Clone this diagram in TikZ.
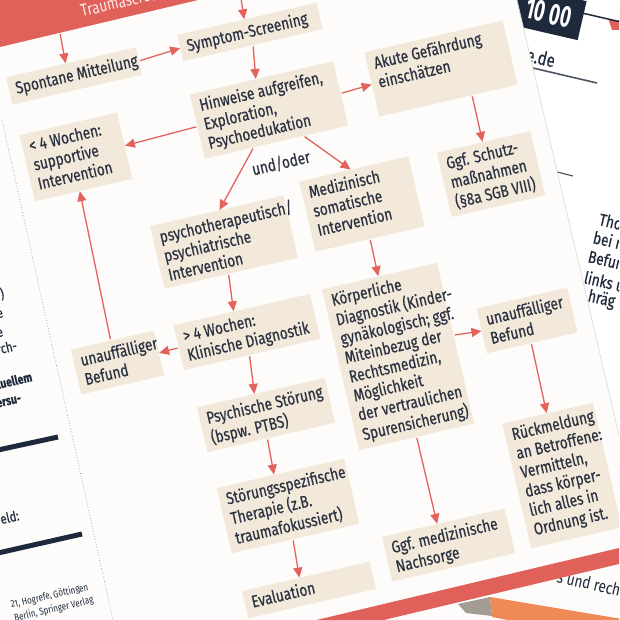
\documentclass[tikz,border=0pt]{standalone}
\usepackage{fontspec}
\setmainfont{Fira Sans}[FakeStretch=0.80,FakeBold=0.5]
\newfontfamily\narrowdigits{Fira Sans}[FakeStretch=0.62]
\newfontfamily\plainsans{Fira Sans}[FakeStretch=0.80]
\usetikzlibrary{arrows.meta,calc}
\definecolor{boxc}{HTML}{F3E9DB}
\definecolor{arrc}{HTML}{E3625B}
\definecolor{txt}{HTML}{2B3242}
\definecolor{band}{HTML}{E0605A}
\definecolor{navy}{HTML}{1E2A3C}
\definecolor{pagec}{HTML}{FDFCFA}
\definecolor{pencilo}{HTML}{EE8A55}
\definecolor{pencilg}{HTML}{A39C94}
\newcommand\bt[3]{\parbox[c][#2pt][t]{#1pt}{\vspace*{5pt}\hspace*{7pt}\begin{tabular}[t]{@{}l@{}}#3\end{tabular}}}
\begin{document}
\begin{tikzpicture}[x=1pt,y=1pt,
  box/.style={fill=boxc,inner sep=0pt,rotate=13,text=txt,font=\fontsize{17}{19.5}\selectfont},
  arr/.style={draw=arrc,line width=1.3pt,-{Triangle[length=10pt,width=9pt]},shorten <=1pt},
  frag/.style={text=navy,inner sep=0pt,rotate=13,font=\fontsize{14}{17}\selectfont},
  rfrag/.style={text=navy,inner sep=0pt,rotate=-13,font=\fontsize{17}{19}\selectfont}]
\useasboundingbox (0,0) rectangle (619,-620);
\clip (0,0) rectangle (619,-620);
\fill[pagec] (0,0) rectangle (619,-620);

% right page (underneath)
\begin{scope}
  \clip (517,0) -- (640,0) -- (640,-525) -- cycle;
  \fill[white] (517,0) -- (640,0) -- (640,-525) -- cycle;
  \fill[band] (606,-12) -- (625,-8) -- (625,-30) -- (612,-30) -- cycle;
  \node[draw=navy,line width=1.5pt,rounded corners=6pt,fill=white,minimum width=52pt,minimum height=30pt,rotate=-13] (wbox) at (601,-2) {};
  \node[fill=navy,text=white,rotate=-13,minimum width=68pt,minimum height=40pt,inner sep=0pt,font=\narrowdigits\bfseries\fontsize{30}{30}\selectfont] (clock) at (549,-13) {10 00};
  \node[rfrag,anchor=base west,font=\fontsize{19}{20}\selectfont] (url) at (525,-61) {e.de};
  \draw[navy!80,line width=1.6pt] (520,-65) -- (597,-83);
  \draw[navy!80,line width=1.2pt] (557,-172) -- (573,-176);
  \node[rfrag,anchor=base west] (r1) at (598,-225) {Tho};
  \node[rfrag,anchor=base west] (r2) at (592,-243) {bei n};
  \node[rfrag,anchor=base west] (r3) at (587,-262) {Befun};
  \node[rfrag,anchor=base west] (r4) at (583,-283) {links u};
  \node[rfrag,anchor=base west] (r5) at (587,-301) {hräg};
\end{scope}
\draw[black!15,line width=0.6pt] (517,0) -- (640,-525);

% area below the bottom band
\node[rfrag,anchor=base west,font=\plainsans\fontsize{17}{19}\selectfont] (r6) at (556,-582) {s und rech};
\fill[pencilg] (458,-604) -- (490,-597) -- (492,-616) -- (466,-613) -- cycle;
\fill[pencilo] (490,-597) -- (640,-622) -- (640,-645) -- (492,-617) -- cycle;
\fill[band] (290,-626.3) -- (619,-548) -- (619,-564) -- (290,-642.3) -- cycle;

% header band
\begin{scope}
  \clip (0,0) -- (0,-47) -- (198,0) -- cycle;
  \fill[band] (0,0) -- (0,-47) -- (198,0) -- cycle;
  \node[rotate=13,anchor=base west,inner sep=0pt,text=white!88!band,font=\plainsans\fontsize{17}{19}\selectfont] (head) at (82,-17) {Traumascreening};
\end{scope}

% left page
\draw[black!40,dotted,line width=0.7pt] (2,-120) -- (113,-620);
\node[frag,anchor=base east] (l1) at (5,-298) {)};
\node[frag,anchor=base east] (l2) at (4,-317) {e};
\node[frag,anchor=base east] (l3) at (4,-336) {e};
\node[frag,anchor=base east] (l4) at (18,-350) {rch-};
\node[frag,anchor=base east,font=\bfseries\fontsize{13}{16}\selectfont] (l5) at (33,-381) {xuellem};
\node[frag,anchor=base east,font=\bfseries\fontsize{13}{16}\selectfont] (l6) at (22,-402) {tersu-};
\draw[navy,line width=5pt] (-2,-450) -- (58,-437);
\node[frag,anchor=base east] (l7) at (20,-520) {eld:};
\draw[navy,line width=5pt] (-2,-553) -- (82,-534);
\node[frag,anchor=base east,font=\plainsans\fontsize{10}{12}\selectfont] (l8) at (89,-590) {21, Hogrefe, Göttingen};
\node[frag,anchor=base east,font=\plainsans\fontsize{10}{12}\selectfont] (l9) at (94,-603) {Berlin, Springer Verlag};

% flowchart boxes
\node[box] (sp) at (74,-76) {\bt{133}{28}{Spontane Mitteilung}};
\node[box] (sy) at (250,-32) {\bt{143}{27}{Symptom-Screening}};
\node[box] (hi) at (269,-110) {\bt{147}{66}{Hinweise aufgreifen,\\Exploration,\\Psychoedukation}};
\node[box] (ak) at (441,-68.5) {\bt{142}{66}{Akute Gefährdung\\einschätzen}};
\node[box] (lw) at (76,-157) {\bt{100}{68}{< 4 Wochen:\\supportive\\Intervention}};
\node[box] (me) at (362,-204) {\bt{112}{72}{Medizinisch\\somatische\\Intervention}};
\node[box] (ps) at (224,-242) {\bt{137}{64}{psychotherapeutisch/\\psychiatrische\\Intervention}};
\node[box] (sc) at (491,-174) {\bt{96}{66}{Ggf. Schutz-\\maßnahmen\\(§8a SGB VIII)}};
\node[box] (gw) at (247,-332) {\bt{140}{46}{> 4 Wochen:\\Klinische Diagnostik}};
\node[box] (ul) at (117.5,-362.5) {\bt{85}{46}{unauffälliger\\Befund}};
\node[box] (pt) at (266,-415) {\bt{131}{46}{Psychische Störung\\(bspw. PTBS)}};
\node[box] (kd) at (398,-356.5) {\bt{118}{165}{Körperliche\\Diagnostik (Kinder-\\gynäkologisch; ggf.\\Miteinbezug der\\Rechtsmedizin,\\Möglichkeit\\der vertraulichen\\Spurensicherung)}};
\node[box] (ur) at (527,-320.5) {\bt{93}{46}{unauffälliger\\Befund}};
\node[box] (rm) at (562,-475.5) {\bt{93}{128}{Rückmeldung\\an Betroffene:\\Vermitteln,\\dass körper-\\lich alles in\\Ordnung ist.}};
\node[box] (st) at (288,-506) {\bt{131}{67}{Störungsspezifische\\Therapie (z.B.\\traumafokussiert)}};
\node[box] (ev) at (309,-590) {\bt{131}{28}{Evaluation}};
\node[box] (na) at (448.5,-545) {\bt{126}{46}{Ggf. medizinische\\Nachsorge}};
\node[rotate=13,text=txt,inner sep=0pt,font=\fontsize{17}{19.5}\selectfont] (uo) at (281,-163) {und/oder};

% connectors
\coordinate (hA) at (60,-33);
\coordinate (hB) at (241,2);
\draw[arr] (hA) -- ($(sp.north west)!.46!(sp.north east)$);
\draw[arr] (hB) -- ($(sy.north west)!.48!(sy.north east)$);
\draw[arr] (sp.east) -- (sy.west);
\draw[arr] ($(sy.south west)!.5!(sy.south east)$) -- ($(hi.north west)!.46!(hi.north east)$);
\draw[arr] (hi.east) -- (ak.west);
\draw[arr] (hi.west) -- (lw.east);
\draw[arr] ($(hi.south west)!.34!(hi.south east)$) -- ($(ps.north west)!.52!(ps.north east)$);
\draw[arr] ($(hi.south west)!.69!(hi.south east)$) -- ($(me.north west)!.47!(me.north east)$);
\draw[arr] ($(ak.south west)!.67!(ak.south east)$) -- ($(sc.north west)!.49!(sc.north east)$);
\draw[arr] ($(ps.south west)!.48!(ps.south east)$) -- ($(gw.north west)!.44!(gw.north east)$);
\draw[arr] (gw.west) -- (ul.east);
\draw[arr] ($(ul.north west)!.48!(ul.north east)$) -- ($(lw.south west)!.46!(lw.south east)$);
\draw[arr] ($(gw.south west)!.48!(gw.south east)$) -- ($(pt.north west)!.45!(pt.north east)$);
\draw[arr] ($(pt.south west)!.47!(pt.south east)$) -- ($(st.north west)!.45!(st.north east)$);
\draw[arr] ($(st.south west)!.48!(st.south east)$) -- ($(ev.north west)!.45!(ev.north east)$);
\draw[arr] ($(me.south west)!.5!(me.south east)$) -- ($(kd.north west)!.49!(kd.north east)$);
\draw[arr] ($(kd.north east)!.45!(kd.south east)$) -- (ur.west);
\draw[arr] ($(ur.south west)!.49!(ur.south east)$) -- ($(rm.north west)!.49!(rm.north east)$);
\draw[arr] ($(kd.south west)!.5!(kd.south east)$) -- ($(na.north west)!.45!(na.north east)$);
\end{tikzpicture}
\end{document}
